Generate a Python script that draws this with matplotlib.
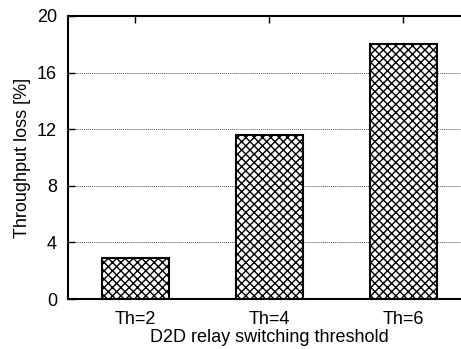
import matplotlib
matplotlib.use("Agg")
import matplotlib.pyplot as plt

categories = ["Th=2", "Th=4", "Th=6"]
values = [2.9, 11.6, 18.0]
yticks = [0, 4, 8, 12, 16, 20]

plt.rcParams['font.family'] = ['Liberation Sans', 'DejaVu Sans']
plt.rcParams['hatch.linewidth'] = 1.0

fig = plt.figure(figsize=(4.61, 3.49), dpi=100)
W, H = 461, 349
left, right, top, bottom = 68, 470, 16, 299
ax = fig.add_axes([left / W, 1 - bottom / H, (right - left) / W, (bottom - top) / H])

x = list(range(len(categories)))
ax.bar(x, values, width=0.5, color='white', edgecolor='black', hatch='xxxx',
       linewidth=1.5, zorder=3)

ax.set_xlim(-0.5, 2.5)
ax.set_ylim(0, 20)
ax.set_yticks(yticks)
ax.set_xticks(x)
ax.set_xticklabels(categories)
ax.yaxis.grid(True, linestyle=(0, (1, 1)), color='#555555', linewidth=0.7, zorder=0)
ax.set_axisbelow(True)

fs = 13
ax.tick_params(axis='y', direction='in', length=5, width=1, pad=8, labelsize=fs)
ax.tick_params(axis='x', direction='in', length=5, width=1, pad=9, labelsize=fs,
               top=True, bottom=False)
for s in ax.spines.values():
    s.set_linewidth(1.5)

ax.set_xlabel("D2D relay switching threshold", fontsize=fs, labelpad=0)
ax.set_ylabel("Throughput loss [%]", fontsize=fs, labelpad=4)

fig.savefig("out.png", dpi=100)
